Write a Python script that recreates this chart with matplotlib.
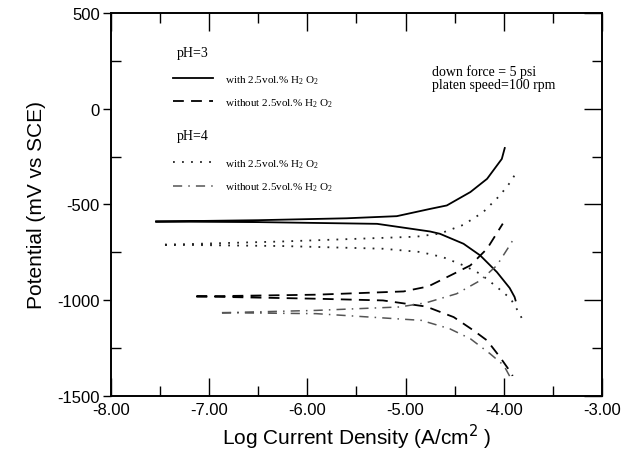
import matplotlib
matplotlib.use("Agg")
import matplotlib.pyplot as plt
from matplotlib.ticker import MultipleLocator, FormatStrFormatter

# 数据：log 电流密度 与 电位 (mV vs SCE)
# pH=3, 含 2.5vol.% H2O2
ph3_with_x = [-7.54, -6.50, -5.60, -5.09, -4.75, -4.58, -4.34, -4.17, -4.02, -3.99,
              None,
              -7.54, -6.50, -5.29, -4.75, -4.65, -4.41, -4.24, -4.07, -3.94, -3.89, -3.88]
ph3_with_y = [-589, -582, -572, -561, -523, -505, -435, -366, -262, -205,
              None,
              -589, -592, -601, -641, -653, -705, -766, -853, -936, -983, -1001]

# pH=3, 不含 H2O2
ph3_without_x = [-7.13, -5.91, -5.02, -4.77, -4.51, -4.34, -4.17, -4.01,
                 None,
                 -7.13, -5.91, -5.23, -4.79, -4.51, -4.31, -4.17, -4.04, -3.92, -3.91]
ph3_without_y = [-980, -971, -954, -928, -862, -818, -731, -600,
                 None,
                 -980, -992, -1001, -1033, -1088, -1157, -1210, -1296, -1383, -1395]

# pH=4, 含 2.5vol.% H2O2
ph4_with_x = [-7.45, -6.25, -4.89, -4.65, -4.41, -4.21, -4.04, -3.92, -3.86,
              None,
              -7.45, -6.25, -5.23, -4.85, -4.62, -4.41, -4.24, -4.07, -3.93, -3.85, -3.81]
ph4_with_y = [-710, -693, -668, -652, -606, -540, -453, -375, -318,
              None,
              -710, -717, -731, -748, -775, -818, -862, -931, -992, -1061, -1100]

# pH=4, 不含 H2O2
ph4_without_x = [-6.87, -5.91, -5.06, -4.79, -4.48, -4.24, -4.07, -3.95, -3.90,
                 None,
                 -6.87, -5.91, -4.84, -4.55, -4.34, -4.14, -4.00, -3.93, -3.92]
ph4_without_y = [-1065, -1053, -1035, -1013, -966, -897, -818, -722, -680,
                 None,
                 -1065, -1070, -1105, -1149, -1201, -1279, -1340, -1406, -1412]

label_with = "with 2.5vol.% H$_2$ O$_2$"
label_without = "without 2.5vol.% H$_2$ O$_2$"


def clean(xs, ys):
    # None 作为分段标记，转成 nan
    return ([float('nan') if v is None else v for v in xs],
            [float('nan') if v is None else v for v in ys])


plt.rcParams['font.family'] = ['Liberation Sans', 'DejaVu Sans']
plt.rcParams['axes.unicode_minus'] = False
plt.rcParams['mathtext.fontset'] = 'custom'
plt.rcParams['mathtext.rm'] = 'Liberation Serif'
plt.rcParams['mathtext.it'] = 'Liberation Serif:italic'

fig = plt.figure(figsize=(6.36, 4.77), dpi=100)
ax = fig.add_axes([0.1745, 0.1677, 0.772, 0.803])

serif = 'Liberation Serif'

l1, = ax.plot(*clean(ph3_with_x, ph3_with_y), color='black', lw=1.3,
              linestyle='-', label=label_with)
l2, = ax.plot(*clean(ph3_without_x, ph3_without_y), color='black', lw=1.3,
              linestyle=(0, (6, 4)), label=label_without)
l3, = ax.plot(*clean(ph4_with_x, ph4_with_y), color='#222222', lw=1.3,
              linestyle=(0, (1, 4)), label=label_with)
l4, = ax.plot(*clean(ph4_without_x, ph4_without_y), color='#555555', lw=1.1,
              linestyle=(0, (6, 4, 1, 4)), label=label_without)

ax.set_xlim(-8, -3)
ax.set_ylim(-1500, 500)
ax.xaxis.set_major_locator(MultipleLocator(1))
ax.xaxis.set_minor_locator(MultipleLocator(0.5))
ax.xaxis.set_major_formatter(FormatStrFormatter('%.2f'))
ax.yaxis.set_major_locator(MultipleLocator(500))
ax.yaxis.set_minor_locator(MultipleLocator(250))

ax.tick_params(axis='x', which='both', direction='in', top=True, labelsize=12,
               pad=4)
ax.tick_params(axis='x', which='major', length=13, width=1)
ax.tick_params(axis='x', which='minor', length=7, width=1)
ax.tick_params(axis='y', which='major', direction='out', length=6, width=1,
               labelsize=12, pad=2)
ax.tick_params(axis='y', which='minor', direction='in', length=7, width=1)

# 右侧刻度（朝内）
ax_r = ax.twinx()
ax_r.set_ylim(ax.get_ylim())
ax_r.yaxis.set_major_locator(MultipleLocator(500))
ax_r.yaxis.set_minor_locator(MultipleLocator(250))
ax_r.tick_params(axis='y', which='both', direction='in', labelright=False, width=1)
ax_r.tick_params(axis='y', which='major', length=13)
ax_r.tick_params(axis='y', which='minor', length=7)

for a in (ax, ax_r):
    for s in a.spines.values():
        s.set_linewidth(1.2)

ax.set_xlabel("Log Current Density (A/cm$^2$ )", fontsize=15, labelpad=4,
              math_fontfamily='dejavusans')
ax.set_ylabel("Potential (mV vs SCE)", fontsize=15, labelpad=8)

leg_kw = dict(frameon=False, loc='upper left', handlelength=3.6,
              handletextpad=1.1, labelspacing=0.95, borderpad=0, borderaxespad=0,
              prop={'family': serif, 'size': 8})
leg1 = ax_r.legend(handles=[l1, l2], bbox_to_anchor=(0.126, 0.843), **leg_kw)
ax_r.add_artist(leg1)
leg2 = ax_r.legend(handles=[l3, l4], bbox_to_anchor=(0.126, 0.623), **leg_kw)

ax.text(0.167, 0.898, "pH=3", transform=ax.transAxes, fontsize=10,
        family=serif, ha='center', va='center')
ax.text(0.167, 0.679, "pH=4", transform=ax.transAxes, fontsize=10,
        family=serif, ha='center', va='center')

ax.text(0.653, 0.832, "down force = 5 psi\nplaten speed=100 rpm",
        transform=ax.transAxes, fontsize=10, family=serif, va='center',
        linespacing=1.0)

fig.savefig("out.png", dpi=100)
